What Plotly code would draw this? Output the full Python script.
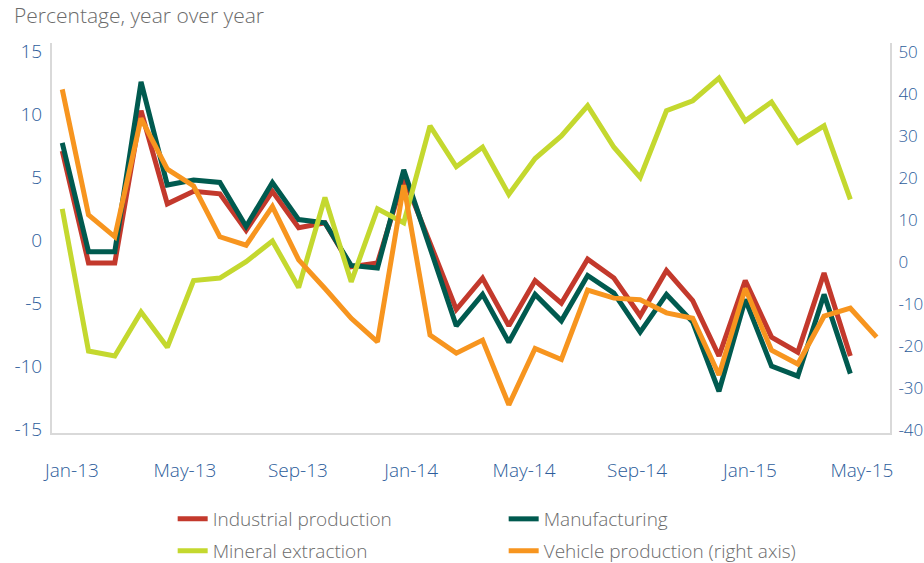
import plotly.graph_objects as go

# ---- data ----
point_index = list(range(32))

industrial = [7.1, -1.8, -1.8, 10.3, 2.9, 3.9, 3.7, 0.8, 3.9, 1.0, 1.4, -2.1, -1.8, 5.0,
              -0.2, -5.5, -3.0, -6.8, -3.2, -5.0, -1.5, -3.0, -6.0, -2.4, -4.8, -9.2,
              -3.2, -7.7, -8.9, -2.6, -9.2]
manufacturing = [7.75, -0.9, -0.9, 12.6, 4.4, 4.8, 4.6, 1.1, 4.6, 1.65, 1.4, -2.0, -2.2, 5.6,
                 -0.6, -6.8, -4.3, -8.1, -4.3, -6.4, -2.8, -4.2, -7.3, -4.3, -6.5, -12.0,
                 -4.7, -10.0, -10.8, -4.3, -10.6]
mineral = [2.5, -8.8, -9.2, -5.7, -8.5, -3.2, -3.0, -1.7, -0.05, -3.75, 3.4, -3.3, 2.5, 1.4,
           9.1, 5.85, 7.4, 3.65, 6.5, 8.3, 10.7, 7.4, 5.0, 10.3, 11.1, 12.9, 9.5, 11.0,
           7.8, 9.1, 3.25]
vehicle = [41.1, 11.2, 6.0, 34.2, 22.1, 18.1, 6.0, 4.0, 13.2, 0.5, -6.3, -13.4, -19.0, 18.3,
           -17.4, -21.7, -18.6, -34.0, -20.6, -23.2, -6.7, -8.6, -9.0, -12.1, -13.4, -26.9,
           -6.3, -21.0, -24.3, -12.9, -11.0, -17.9]

tick_labels = ["Jan-13", "May-13", "Sep-13", "Jan-14", "May-14", "Sep-14", "Jan-15", "May-15"]
tick_positions = [0.37, 4.67, 8.97, 13.28, 17.58, 21.88, 26.18, 30.44]

left_ticks = [-15, -10, -5, 0, 5, 10, 15]
right_ticks = [-40, -30, -20, -10, 0, 10, 20, 30, 40, 50]

# ---- styles ----
RED = "#c3392c"
DKGREEN = "#005a4f"
LIME = "#c4d82f"
ORANGE = "#f7951f"
TEXT = "#6b6b6b"
TICK = "#2d5d9b"
AXIS = "#d9d9d9"
FONT = "Open Sans"
LW = 5

fig = go.Figure()
fig.add_trace(go.Scatter(x=point_index[:len(industrial)], y=industrial, mode="lines",
                         name="Industrial production", line=dict(color=RED, width=LW),
                         legend="legend"))
fig.add_trace(go.Scatter(x=point_index[:len(manufacturing)], y=manufacturing, mode="lines",
                         name="Manufacturing", line=dict(color=DKGREEN, width=LW),
                         legend="legend"))
fig.add_trace(go.Scatter(x=point_index[:len(mineral)], y=mineral, mode="lines",
                         name="Mineral extraction", line=dict(color=LIME, width=LW),
                         legend="legend2"))
fig.add_trace(go.Scatter(x=point_index[:len(vehicle)], y=vehicle, mode="lines",
                         name="Vehicle production (right axis)", line=dict(color=ORANGE, width=LW),
                         yaxis="y2", legend="legend2"))

legend_common = dict(orientation="h", xanchor="left", yanchor="middle",
                     x=0.144, entrywidth=286, entrywidthmode="pixels",
                     font=dict(family=FONT, size=19, color=TEXT, weight=300),
                     bgcolor="rgba(0,0,0,0)", itemclick=False, itemdoubleclick=False)

tickfont = dict(family=FONT, size=19, color=TICK, weight=300)

fig.update_layout(
    width=924, height=563,
    margin=dict(l=52, r=34, t=43, b=130, autoexpand=False),
    paper_bgcolor="white", plot_bgcolor="white",
    font=dict(family=FONT, color=TEXT),
    showlegend=True,
    legend=dict(**legend_common, y=-0.2205),
    legend2=dict(**legend_common, y=-0.3026),
    xaxis=dict(range=[-0.39, 31.51], tickmode="array", tickvals=tick_positions,
               ticktext=tick_labels, showgrid=False, zeroline=False, automargin=False,
               showline=True, linecolor=AXIS, linewidth=2, ticks="",
               ticklabelstandoff=19, tickfont=tickfont),
    yaxis=dict(range=[-15.32, 15.69], tickmode="array", tickvals=left_ticks,
               ticktext=[str(v) for v in left_ticks],
               showgrid=False, zeroline=False, showline=True, linecolor=AXIS,
               automargin=False, linewidth=2, ticks="", ticklabelstandoff=4,
               tickfont=tickfont),
    yaxis2=dict(range=[-40.71, 52.14], tickmode="array", tickvals=right_ticks,
                ticktext=[str(v) for v in right_ticks],
                overlaying="y", side="right", showgrid=False, zeroline=False,
                showline=True, linecolor=AXIS, linewidth=2, ticks="", automargin=False,
                ticklabelstandoff=3, tickfont=dict(tickfont, size=17)),
    annotations=[dict(text="Percentage, year over year", xref="paper", yref="paper",
                      x=-0.0477, y=1.0, xanchor="left", yanchor="bottom", yshift=12,
                      showarrow=False,
                      font=dict(family=FONT, size=21, color=TEXT, weight=300))],
)

fig.write_html("out.html", config={"displayModeBar": False},
               post_script="document.body.style.margin='0px';document.body.style.overflow='hidden';")
